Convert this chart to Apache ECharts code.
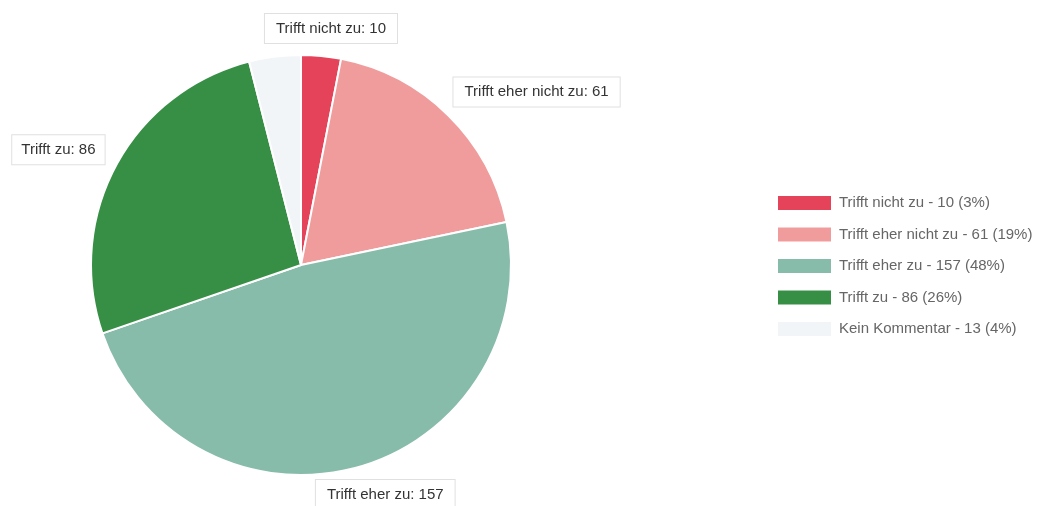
<!DOCTYPE html>
<html>
<head>
<meta charset="utf-8">
<script src="https://cdn.jsdelivr.net/npm/echarts@6/dist/echarts.min.js"></script>
<style>
  html, body { margin: 0; padding: 0; background: #fff; }
  #main { width: 1064px; height: 506px; }
</style>
</head>
<body>
<div id="main"></div>
<script>
// Daten
var categories = ['Trifft nicht zu', 'Trifft eher nicht zu', 'Trifft eher zu', 'Trifft zu', 'Kein Kommentar'];
var values = [10, 61, 157, 86, 13];
var colors = ['#e5435a', '#f09c9d', '#87bbaa', '#378f45', '#f2f5f7'];
var showLabel = [true, true, true, true, false];

var total = values.reduce(function (a, b) { return a + b; }, 0);
var CX = 301, CY = 265, R = 210;

// Mittelwinkel jedes Segments (ab 12 Uhr, im Uhrzeigersinn)
var midAngles = [];
var acc = 0;
values.forEach(function (v) {
    midAngles.push((acc + v / 2) / total * Math.PI * 2);
    acc += v;
});

function clamp1(t) { return Math.max(-1, Math.min(1, t)); }

var myChart = echarts.init(document.getElementById('main'));

var option = {
    animation: false,
    legend: {
        orient: 'vertical',
        left: 776,
        top: 194,
        padding: 0,
        itemWidth: 55,
        itemHeight: 16,
        itemGap: 13.5,
        icon: 'rect',
        textStyle: { color: '#666', fontSize: 15, fontFamily: 'Arial', padding: [0, 0, 0, 2] },
        formatter: function (name) {
            var i = categories.indexOf(name);
            return name + ' - ' + values[i] + ' (' + Math.round(values[i] / total * 100) + '%)';
        },
        data: categories
    },
    series: [{
        type: 'pie',
        center: [CX, CY],
        radius: R,
        startAngle: 90,
        clockwise: true,
        itemStyle: { borderColor: '#fff', borderWidth: 2 },
        label: {
            show: true,
            position: 'outside',
            formatter: '{b}: {c}',
            color: '#333',
            fontSize: 15,
            fontFamily: 'Arial',
            overflow: 'none',
            backgroundColor: '#fff',
            borderColor: '#e0e0e0',
            borderWidth: 1,
            padding: [7, 11]
        },
        labelLine: { show: false, length: 10, length2: 0 },
        emphasis: { disabled: true },
        // Etikett knapp ausserhalb des Kreises, vom Mittelpunkt weg ausgerichtet
        labelLayout: function (p) {
            var a = midAngles[p.dataIndex];
            var ux = Math.sin(a), uy = -Math.cos(a);
            var w = p.labelRect.width, h = p.labelRect.height;
            var d = R + 12;
            return {
                x: CX + d * ux + (w / 2) * clamp1(1.35 * ux),
                y: CY + d * uy + (h / 2) * clamp1(1.35 * uy),
                align: 'center',
                verticalAlign: 'middle'
            };
        },
        data: categories.map(function (c, i) {
            return {
                name: c,
                value: values[i],
                itemStyle: { color: colors[i] },
                label: { show: showLabel[i] }
            };
        })
    }]
};

myChart.setOption(option);
</script>
</body>
</html>
